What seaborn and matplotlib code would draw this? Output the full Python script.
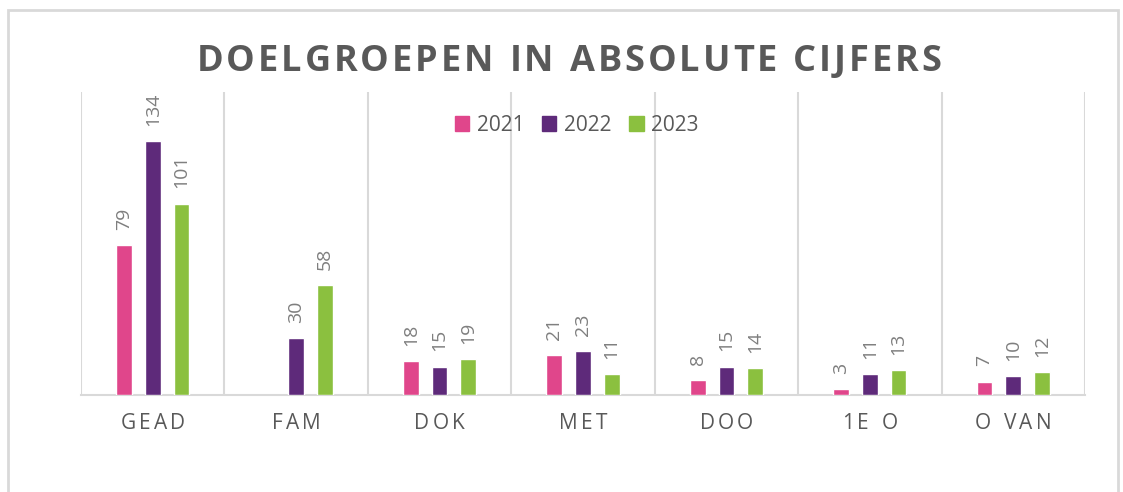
import matplotlib
matplotlib.use("Agg")
import numpy as np
import pandas as pd
import matplotlib.pyplot as plt
import seaborn as sns
from matplotlib.patches import Rectangle
from matplotlib.transforms import IdentityTransform

# data
categories = ["GEAD", "FAM", "DOK", "MET", "DOO", "1E O", "O VAN"]
years = ["2021", "2022", "2023"]
v2021 = [79, np.nan, 18, 21, 8, 3, 7]
v2022 = [134, 30, 15, 23, 15, 11, 10]
v2023 = [101, 58, 19, 11, 14, 13, 12]
colors = ["#E0468B", "#5E2A7A", "#8BC03F"]

df = pd.DataFrame({
    "doelgroep": categories * 3,
    "jaar": np.repeat(years, len(categories)),
    "aantal": v2021 + v2022 + v2023,
})

sns.set_theme(style="white")
plt.rcParams["font.family"] = ["Open Sans", "DejaVu Sans"]

W, H = 1123, 492
GRID = "#D9D9D9"
DARK = "#595959"
fig = plt.figure(figsize=(W / 100, H / 100), dpi=100)
ax = fig.add_axes([81 / W, 97 / H, 1004 / W, 303 / H])

sns.barplot(data=df, x="doelgroep", y="aantal", hue="jaar", order=categories,
            hue_order=years, palette=colors, width=0.6, gap=0.45,
            errorbar=None, legend=False, saturation=1, ax=ax, zorder=3)

for c in ax.containers:
    ax.bar_label(c, padding=11, rotation=90, fontsize=14, color="#7F7F7F")

ax.vlines(np.arange(-0.5, len(categories)), 0, 160, color=GRID, lw=1.5, zorder=1)
ax.set_xlim(-0.5, len(categories) - 0.5)
ax.set_ylim(0, 160)
ax.set_yticks([])
ax.set_xticks(range(len(categories)))
ax.set_xticklabels([])
ax.tick_params(axis="x", length=0)
ax.set_xlabel("")
ax.set_ylabel("")
for side in ["top", "left", "right"]:
    ax.spines[side].set_visible(False)
ax.spines["bottom"].set_color(GRID)
ax.spines["bottom"].set_linewidth(1.5)

handles = [Rectangle((0, 0), 1, 1, color=col) for col in colors]
leg = ax.legend(handles, years, loc="center", bbox_to_anchor=(0.4935, 0.89), ncol=3,
                frameon=False, fontsize=15, handlelength=0.7, handleheight=0.7,
                handletextpad=0.35, columnspacing=0.85)
for t in leg.get_texts():
    t.set_color(DARK)

# letter-spaced text, placed char by char in pixel coordinates
renderer = fig.canvas.get_renderer()


def spaced_text(s, xc, y, gap=None, width=None, **kw):
    parts = []
    for ch in s:
        t = fig.text(0, 0, ch, transform=IdentityTransform(), ha="left",
                     va="baseline", **kw)
        if ch == " ":
            w = kw.get("fontsize", 12) * 100 / 72 * 0.28
        else:
            w = t.get_window_extent(renderer).width
        parts.append((t, w))
    natural = sum(w for _, w in parts)
    if width is not None:
        gap = (width - natural) / (len(parts) - 1)
    total = natural + gap * (len(parts) - 1)
    x = xc - total / 2
    for t, w in parts:
        t.set_position((x, y))
        x += w + gap


spaced_text("DOELGROEPEN IN ABSOLUTE CIJFERS", 569, H - 71, width=745,
            fontsize=26, fontweight="bold", color=DARK)

for i, lab in enumerate(categories):
    xc = ax.transData.transform((i, 0))[0]
    spaced_text(lab, xc, H - 429, gap=3.2, fontsize=15, color=DARK)

fig.add_artist(Rectangle((7.5, -20), 1110, H - 10 + 20, transform=IdentityTransform(),
                         fill=False, edgecolor=GRID, lw=2))

fig.savefig("out.png", dpi=100)
